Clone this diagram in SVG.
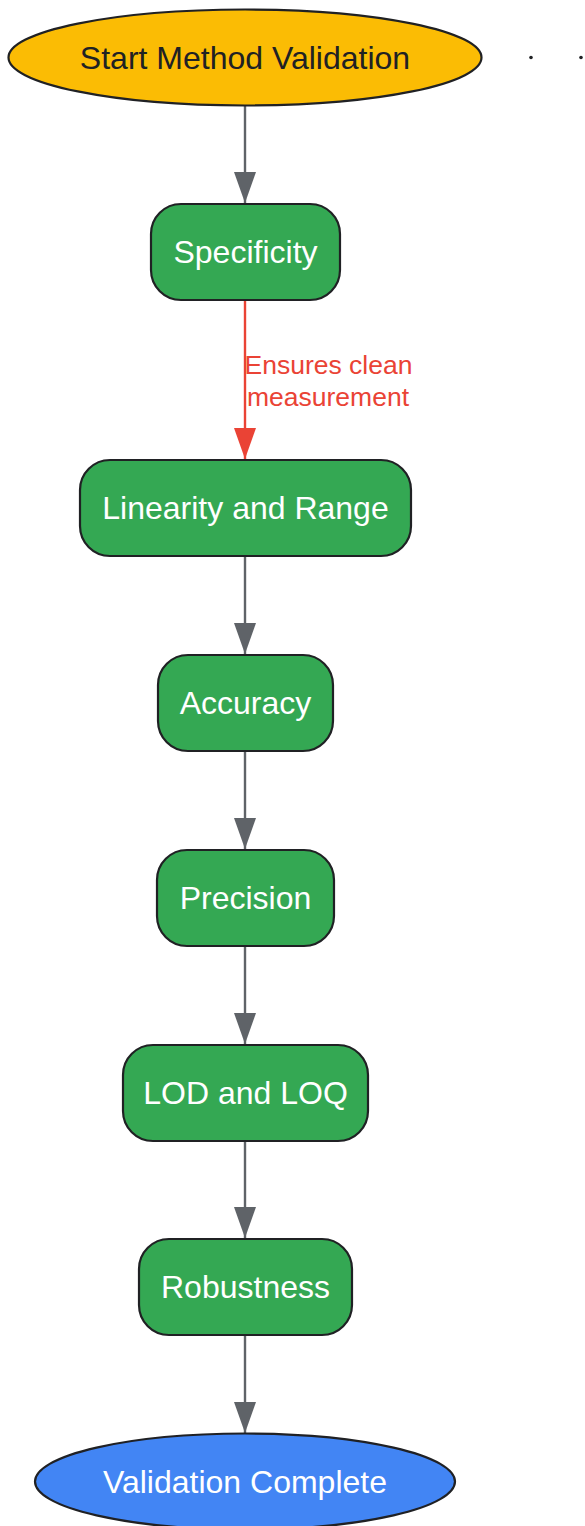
<svg xmlns="http://www.w3.org/2000/svg" width="585" height="1526" viewBox="0 0 585 1526">
<defs>
<style>
.node{stroke:#202124;stroke-width:2.2}
.proc{fill:#34a853}
.t{font-family:"Liberation Sans",Arial,sans-serif;font-size:32px;text-anchor:middle;dominant-baseline:central}
.w{fill:#ffffff}
.edge{fill:none;stroke:#5f6368;stroke-width:2.4}
.edge-red{fill:none;stroke:#ea4335;stroke-width:2.4}
.lbl{font-family:"Liberation Sans",Arial,sans-serif;font-size:26.5px;fill:#ea4335}
</style>
<marker id="ah" markerUnits="userSpaceOnUse" markerWidth="31" markerHeight="22" refX="31" refY="11" viewBox="0 0 31 22" orient="auto">
<path d="M0,0 L31,11 L0,22 Z" fill="#5f6368"/>
</marker>
<marker id="ahr" markerUnits="userSpaceOnUse" markerWidth="31" markerHeight="22" refX="31" refY="11" viewBox="0 0 31 22" orient="auto">
<path d="M0,0 L31,11 L0,22 Z" fill="#ea4335"/>
</marker>
</defs>
<rect width="585" height="1526" fill="#ffffff"/>
<g id="connectors">
<path class="edge" d="M245,106 L245,203" marker-end="url(#ah)"/>
<path class="edge-red" d="M245,300 L245,459" marker-end="url(#ahr)"/>
<path class="edge" d="M245,556 L245,654" marker-end="url(#ah)"/>
<path class="edge" d="M245,751 L245,849" marker-end="url(#ah)"/>
<path class="edge" d="M245,946 L245,1044" marker-end="url(#ah)"/>
<path class="edge" d="M245,1141 L245,1238" marker-end="url(#ah)"/>
<path class="edge" d="M245,1335 L245,1433" marker-end="url(#ah)"/>
<text class="lbl" x="244.5" y="373.5">Ensures clean</text>
<text class="lbl" x="247" y="405.5">measurement</text>
</g>
<g id="start">
<ellipse class="node" cx="245" cy="57.5" rx="236.5" ry="48" fill="#fbbc04"/>
<text class="t" x="245" y="58" fill="#202124">Start Method Validation</text>
</g>
<g id="specificity">
<rect class="node proc" x="151" y="204" width="189" height="96" rx="30"/>
<text class="t w" x="245.5" y="252">Specificity</text>
</g>
<g id="linearity">
<rect class="node proc" x="80" y="460" width="331" height="96" rx="30"/>
<text class="t w" x="245.5" y="508">Linearity and Range</text>
</g>
<g id="accuracy">
<rect class="node proc" x="158" y="655" width="175" height="96" rx="30"/>
<text class="t w" x="245.5" y="703">Accuracy</text>
</g>
<g id="precision">
<rect class="node proc" x="157" y="850" width="177" height="96" rx="30"/>
<text class="t w" x="245.5" y="898">Precision</text>
</g>
<g id="lod">
<rect class="node proc" x="123" y="1045" width="245" height="96" rx="30"/>
<text class="t w" x="245.5" y="1093">LOD and LOQ</text>
</g>
<g id="robustness">
<rect class="node proc" x="139" y="1239" width="213" height="96" rx="30"/>
<text class="t w" x="245.5" y="1287">Robustness</text>
</g>
<g id="complete">
<ellipse class="node" cx="245" cy="1481.5" rx="210" ry="48" fill="#4285f4"/>
<text class="t w" x="245" y="1482">Validation Complete</text>
</g>
<g id="dots">
<circle cx="531" cy="57.5" r="1.8" fill="#202124"/>
<circle cx="581" cy="57.5" r="1.8" fill="#202124"/>
</g>
</svg>
